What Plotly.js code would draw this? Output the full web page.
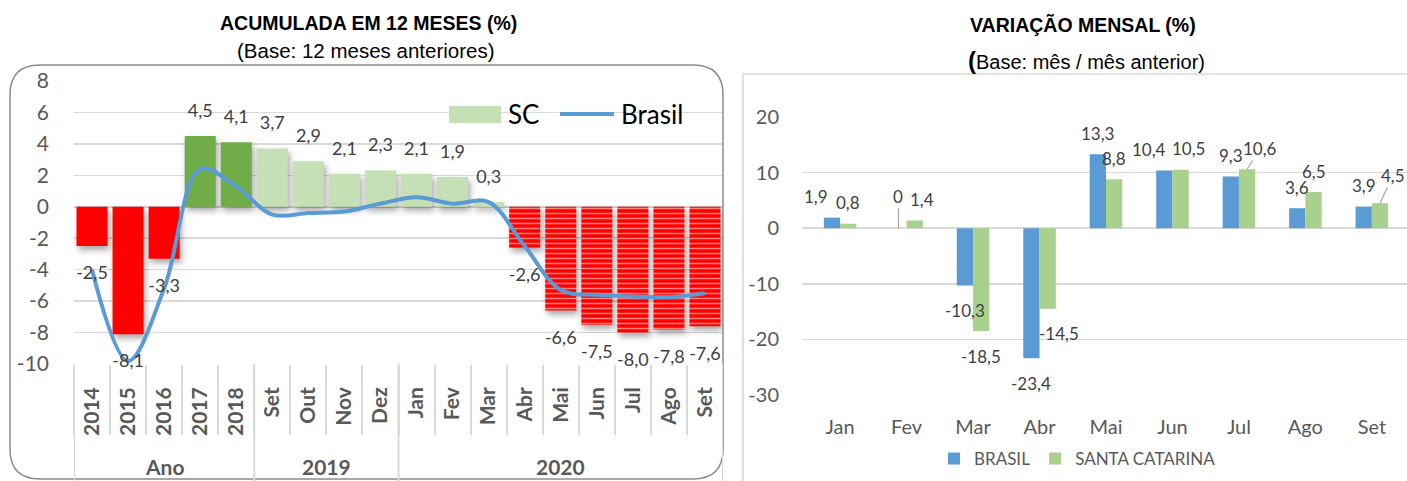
<!DOCTYPE html>
<html><head><meta charset="utf-8">
<script src="https://cdn.plot.ly/plotly-3.0.1.min.js"></script>
<style>
html,body{margin:0;padding:0;background:#fff;overflow:hidden}
#chart{width:1407px;height:481px}
.subplot.xy .barlayer path{filter:drop-shadow(2px 4px 3px rgba(0,0,0,0.35))}
</style></head><body><div id="chart"></div>
<script>
// ---------- data ----------
const periodGroups = ['Ano','Ano','Ano','Ano','Ano','2019','2019','2019','2019','2020','2020','2020','2020','2020','2020','2020','2020','2020'];
const periodLabels = ['2014','2015','2016','2017','2018','Set','Out','Nov','Dez','Jan','Fev','Mar','Abr','Mai','Jun','Jul','Ago','Set'];
const scAcumulado = [-2.5,-8.1,-3.3,4.5,4.1,3.7,2.9,2.1,2.3,2.1,1.9,0.3,-2.6,-6.6,-7.5,-8.0,-7.8,-7.6];
const brasilAcumulado = [-4.0,-9.8,-5.2,2.4,1.3,-0.5,-0.4,-0.3,0.2,0.6,0.2,0.3,-2.5,-5.3,-5.6,-5.7,-5.75,-5.5];
const accTicks = [-10,-8,-6,-4,-2,0,2,4,6,8];

const meses = ['Jan','Fev','Mar','Abr','Mai','Jun','Jul','Ago','Set'];
const brasilMensal = [1.9,0,-10.3,-23.4,13.3,10.4,9.3,3.6,3.9];
const scMensal = [0.8,1.4,-18.5,-14.5,8.8,10.5,10.6,6.5,4.5];
const mensalTicks = [-30,-20,-10,0,10,20];

// ---------- helpers ----------
const W = 1407, H = 481;
const fx = p => p / W;
const fy = p => 1 - p / H;
const fmt = v => v === 0 ? '0' : v.toFixed(1).replace('.', ',');

// unique category keys (group + period), shown with the period label only
const xKeys = periodLabels.map((l, i) => periodGroups[i] + ' ' + l);
// group spans, derived from periodGroups
const groups = [];
periodGroups.forEach((g, i) => {
  if (!groups.length || groups[groups.length - 1].name !== g) groups.push({name:g, start:i, end:i});
  else groups[groups.length - 1].end = i;
});

// styles
const RED = '#FF0000', DKGREEN = '#70AD47', LTGREEN = '#C5E0B4';
const BLUE = '#5B9BD5', GREEN = '#A9D18E';
const accColors = scAcumulado.map((v, i) => v < 0 ? RED : (periodGroups[i] === 'Ano' ? DKGREEN : LTGREEN));
const accPattern = scAcumulado.map((v, i) => (v < 0 && periodGroups[i] !== 'Ano') ? '-' : '');

// ---------- traces ----------
const traces = [
  {type:'bar', x:xKeys, y:scAcumulado, xaxis:'x', yaxis:'y', width:0.86, showlegend:false, hoverinfo:'skip',
   marker:{color:accColors, line:{width:0},
     pattern:{shape:accPattern, fgcolor:'#ffffff', size:5, solidity:0.3, fillmode:'overlay'}}},
  {type:'scatter', mode:'lines', x:xKeys, y:brasilAcumulado, xaxis:'x', yaxis:'y', showlegend:false, hoverinfo:'skip',
   line:{color:BLUE, width:4, shape:'spline', smoothing:1}},
  {type:'scatter', mode:'markers+text', x:xKeys, y:scAcumulado, xaxis:'x', yaxis:'y', showlegend:false, hoverinfo:'skip',
   text:scAcumulado.map(fmt), textposition:scAcumulado.map(v => v >= 0 ? 'top center' : 'bottom center'),
   textfont:{family:'Lato, sans-serif', size:18, color:'#404040'}, cliponaxis:false,
   marker:{size:scAcumulado.map(v => v >= 0 ? 22 : 30), color:'rgba(0,0,0,0)', opacity:0, line:{width:0}}},
  {type:'bar', name:'BRASIL', x:meses, y:brasilMensal, xaxis:'x2', yaxis:'y2', marker:{color:BLUE}, hoverinfo:'skip'},
  {type:'bar', name:'SANTA CATARINA', x:meses, y:scMensal, xaxis:'x2', yaxis:'y2', marker:{color:GREEN}, hoverinfo:'skip'}
];

// ---------- annotations ----------
const GAP = 0.51;
const half = (1 - GAP) / 4;
const nudges = {
  'B|Jan':{dx:-16}, 'B|Fev':{leader:true, ax:0, ay:-32}, 'S|Fev':{dx:7}, 'S|Abr':{dx:11},
  'B|Jun':{dx:-15}, 'S|Jun':{dx:8}, 'S|Jul':{leader:true, ax:13, ay:-21}, 'S|Set':{leader:true, ax:13, ay:-28}
};
const ann = [];
function addLabels(vals, key, off) {
  vals.forEach((v, i) => {
    const n = nudges[key + '|' + meses[i]] || {};
    const a = {xref:'x2', yref:'y2', x:i + off, y:v, text:fmt(v), xanchor:'center', yanchor:'middle',
      font:{family:'Lato, sans-serif', size:17, color:'#404040'}};
    if (n.leader) {
      Object.assign(a, {showarrow:true, arrowhead:0, arrowwidth:1.2, arrowcolor:'#a6a6a6', ax:n.ax, ay:n.ay, standoff:0});
    } else {
      Object.assign(a, {showarrow:false, yshift: v >= 0 ? 21 : -25, xshift: n.dx || 0});
    }
    ann.push(a);
  });
}
addLabels(brasilMensal, 'B', -half);
addLabels(scMensal, 'S', half);

// group labels of the left category axis
groups.forEach(g => ann.push({xref:'x', yref:'paper', x:(g.start + g.end) / 2, y:fy(466), text:g.name,
  showarrow:false, xanchor:'center', yanchor:'middle',
  font:{family:'Lato, sans-serif', size:21, color:'#595959', weight:'bold'}}));

const titleFont = {family:'"Liberation Sans", Arial, sans-serif', size:19.5, color:'#000', weight:'bold'};
const subFont = {family:'"Liberation Sans", Arial, sans-serif', size:20.5, color:'#000'};
const P = {xref:'paper', yref:'paper', showarrow:false, xanchor:'center', yanchor:'middle'};
ann.push(
  Object.assign({x:fx(368), y:fy(23), text:'ACUMULADA EM 12 MESES (%)', font:titleFont}, P),
  Object.assign({x:fx(366), y:fy(50), text:'(Base: 12 meses anteriores)', font:subFont}, P),
  Object.assign({x:fx(1083), y:fy(25), text:'VARIAÇÃO MENSAL (%)', font:titleFont}, P),
  Object.assign({x:fx(1086), y:fy(60), text:'<b><span style="font-size:24px">(</span></b>Base: mês / mês anterior)',
    font:{family:'"Liberation Sans", Arial, sans-serif', size:20, color:'#000'}}, P),
  Object.assign({}, P, {x:fx(506), y:fy(114), xanchor:'left', text:'SC', font:{family:'Lato, sans-serif', size:26, color:'#000'}}),
  Object.assign({}, P, {x:fx(619), y:fy(114), xanchor:'left', text:'Brasil', font:{family:'Lato, sans-serif', size:26, color:'#000'}})
);

// ---------- shapes ----------
function roundBox(x0, y0, x1, y1, r) {
  const Q = (x, y) => fx(x) + ',' + fy(y);
  return 'M' + Q(x0 + r, y0) + ' L' + Q(x1 - r, y0) + ' Q' + Q(x1, y0) + ' ' + Q(x1, y0 + r) +
    ' L' + Q(x1, y1 - r) + ' Q' + Q(x1, y1) + ' ' + Q(x1 - r, y1) +
    ' L' + Q(x0 + r, y1) + ' Q' + Q(x0, y1) + ' ' + Q(x0, y1 - r) +
    ' L' + Q(x0, y0 + r) + ' Q' + Q(x0, y0) + ' ' + Q(x0 + r, y0) + ' Z';
}
const shapes = [
  {type:'path', xref:'paper', yref:'paper', path:roundBox(10, 65, 723, 479, 30), line:{color:'#8c8c8c', width:1.5}, fillcolor:'rgba(0,0,0,0)'},
  {type:'path', xref:'paper', yref:'paper', path:'M' + fx(743) + ',' + fy(495) + ' L' + fx(743) + ',' + fy(74) + ' L' + fx(1420) + ',' + fy(74),
   line:{color:'#d9d9d9', width:1.5}},
  {type:'rect', xref:'paper', yref:'paper', x0:fx(449), x1:fx(501), y0:fy(123), y1:fy(106), fillcolor:LTGREEN, line:{width:0}},
  {type:'line', xref:'paper', yref:'paper', x0:fx(560), x1:fx(614), y0:fy(114), y1:fy(114), line:{color:BLUE, width:4}}
];
// group dividers, at the group boundaries of the category axis
const dividerAt = [groups[0].start - 0.5].concat(groups.map(g => g.end + 0.5));
dividerAt.forEach(b => shapes.push({type:'line', xref:'x', yref:'paper', x0:b, x1:b, y0:fy(364), y1:fy(490),
  line:{color:'#d9d9d9', width:2}}));

// ---------- layout ----------
const tickFont = {family:'Lato, sans-serif', color:'#595959'};
const layout = {
  width:W, height:H, margin:{l:0, r:0, t:0, b:0},
  paper_bgcolor:'#ffffff', plot_bgcolor:'rgba(0,0,0,0)',
  separators:',.', barmode:'group', bargap:GAP, bargroupgap:0,
  font:{family:'Lato, sans-serif', color:'#595959'},
  xaxis:{type:'category', domain:[fx(74), fx(723)], anchor:'y', range:[-0.5, xKeys.length - 0.5],
    tickmode:'array', tickvals:xKeys, ticktext:periodLabels,
    showgrid:false, zeroline:false, showline:false,
    ticks:'outside', tickson:'boundaries', ticklen:70, tickwidth:2, tickcolor:'#d9d9d9',
    tickangle:-90, ticklabelstandoff:18,
    tickfont:Object.assign({size:21, weight:'bold'}, tickFont)},
  yaxis:{domain:[fy(364), fy(81)], anchor:'x', range:[-10, 8], tickvals:accTicks, ticktext:accTicks.map(String),
    showgrid:true, gridcolor:'#d9d9d9', gridwidth:1.5, zeroline:true, zerolinecolor:'#d0d0d0', zerolinewidth:2,
    showline:false, ticklabelstandoff:24, tickfont:Object.assign({size:21}, tickFont)},
  xaxis2:{domain:[fx(802), 1], anchor:'y2', type:'category', showgrid:false, zeroline:false, showline:false,
    ticks:'', ticklabelstandoff:18, tickfont:Object.assign({size:20}, tickFont)},
  yaxis2:{domain:[fy(395), fy(117)], anchor:'x2', range:[-30, 20], tickvals:mensalTicks, ticktext:mensalTicks.map(String),
    showgrid:true, gridcolor:'#d9d9d9', gridwidth:1.5, zeroline:true, zerolinecolor:'#d9d9d9', zerolinewidth:1.5,
    showline:false, ticklabelstandoff:22, tickfont:Object.assign({size:20}, tickFont)},
  showlegend:true,
  legend:{orientation:'h', x:fx(934), y:fy(459), xanchor:'left', yanchor:'middle', bgcolor:'rgba(0,0,0,0)',
    font:{family:'Lato, sans-serif', size:17, color:'#595959'}, traceorder:'normal'},
  annotations:ann, shapes:shapes
};

Plotly.newPlot('chart', traces, layout, {staticPlot:true, displayModeBar:false});
</script></body></html>
